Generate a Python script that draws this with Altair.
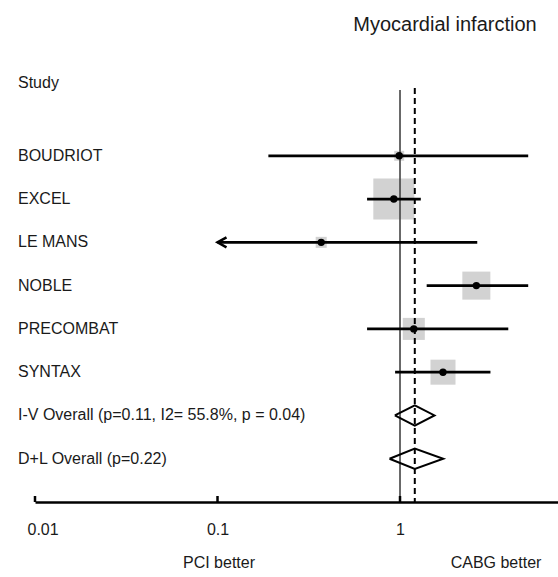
import altair as alt
import pandas as pd

# Individual trials: odds ratio, 95% CI and relative weight (%)
studies = ["BOUDRIOT", "EXCEL", "LE MANS", "NOBLE", "PRECOMBAT", "SYNTAX"]
estimate = [0.99, 0.925, 0.37, 2.62, 1.19, 1.72]
ci_low = [0.19, 0.66, 0.10, 1.40, 0.66, 0.94]
ci_high = [5.04, 1.30, 2.65, 5.04, 3.92, 3.13]
weight = [2.6, 44.3, 3.2, 20.7, 12.8, 16.5]

# Pooled estimates (inverse-variance and DerSimonian-Laird)
pooled_labels = ["I-V Overall (p=0.11, I2= 55.8%, p = 0.04)", "D+L Overall (p=0.22)"]
pooled_est = [1.205, 1.205]
pooled_low = [0.937, 0.876]
pooled_high = [1.545, 1.725]

tick_values = [0.01, 0.1, 1]
ci_floor = 0.1  # intervals reaching this bound are drawn with an arrow

FONT = "Liberation Sans"
INK = "#1a1a1a"
W, H = 523, 502
ROW_DOMAIN = [-2.6, 9.0]
DIAMOND_HALF = 0.235

study_df = pd.DataFrame({
    "label": studies,
    "row": list(range(1, len(studies) + 1)),
    "est": estimate,
    "lo": [max(v, ci_floor) for v in ci_low],
    "hi": ci_high,
    "w": weight,
    "arrow": [v <= ci_floor for v in ci_low],
})
pooled_rows = [len(studies) + 1 + i for i in range(len(pooled_labels))]
pooled_df = pd.DataFrame({"label": pooled_labels, "row": pooled_rows,
                          "est": pooled_est, "lo": pooled_low, "hi": pooled_high})

diamond_pts = []
for _, r in pooled_df.iterrows():
    pts = [(r.lo, r.row), (r.est, r.row - DIAMOND_HALF), (r.hi, r.row),
           (r.est, r.row + DIAMOND_HALF), (r.lo, r.row)]
    for i, (xv, yv) in enumerate(pts):
        diamond_pts.append({"label": r.label, "o": i, "x": xv, "row": yv})
diamond_df = pd.DataFrame(diamond_pts)

labels_df = pd.concat([study_df[["label", "row"]], pooled_df[["label", "row"]]])

xscale = alt.Scale(type="log", domain=[0.01, 7.34], nice=False)
ysc = alt.Scale(domain=[ROW_DOMAIN[1], ROW_DOMAIN[0]], nice=False, zero=False)

X = lambda f: alt.X(f, type="quantitative", scale=xscale,
                    axis=alt.Axis(values=tick_values, format="~g", title=None, grid=False,
                                  ticks=False, domain=True, domainColor="black",
                                  domainWidth=2.5, labelFontSize=16, labelFont=FONT,
                                  labelColor=INK, labelPadding=19, labelFlush=True,
                                  labelFlushOffset=8))
Y = alt.Y("row:Q", scale=ysc, axis=None)

base_study = alt.Chart(study_df)

boxes = base_study.mark_point(shape="square", filled=True, color="#d2d2d2", opacity=1).encode(
    x=X("est"), y=Y,
    size=alt.Size("w:Q", scale=alt.Scale(domain=[0, 44.3], range=[0, 1681]), legend=None),
)
ci = base_study.mark_rule(color="black", strokeWidth=2.7).encode(
    x=X("lo"), x2="hi", y=Y)
dots = base_study.mark_point(shape="circle", filled=True, color="black", size=55, opacity=1).encode(
    x=X("est"), y=Y)
arrows = base_study.transform_filter("datum.arrow").mark_point(
    shape="M1.8,-1L0,0L1.8,1", filled=False, color="black", strokeWidth=2.5,
    size=100, opacity=1, strokeJoin="miter").encode(x=X("lo"), y=Y)

diamonds = alt.Chart(diamond_df).mark_line(color="black", strokeWidth=2, strokeJoin="miter").encode(
    x=X("x"), y=alt.Y("row:Q", scale=ysc, axis=None), detail="label:N", order="o:Q")

null_line = alt.Chart(pd.DataFrame({"v": [1]})).mark_rule(color="#444", strokeWidth=1.6).encode(
    x=X("v"), y=alt.value(90), y2=alt.value(H))
pooled_line = alt.Chart(pooled_df.head(1)).mark_rule(
    color="black", strokeWidth=2, strokeDash=[6, 4]).encode(
    x=X("est"), y=alt.value(88), y2=alt.value(H))

axis_ticks = alt.Chart(pd.DataFrame({"t": tick_values})).mark_rule(
    color="black", strokeWidth=2.5).encode(x=X("t"), y=alt.value(H - 6), y2=alt.value(H))

row_labels = alt.Chart(labels_df).mark_text(
    align="left", baseline="middle", font=FONT, fontSize=16, color=INK).encode(
    x=alt.value(-17), y=alt.Y("row:Q", scale=ysc, axis=None), text="label:N")

header = alt.Chart(pd.DataFrame({"t": ["Study"]})).mark_text(
    align="left", baseline="middle", font=FONT, fontSize=16, color=INK).encode(
    x=alt.value(-17), y=alt.value(83), text="t:N")
title = alt.Chart(pd.DataFrame({"t": ["Myocardial infarction"]})).mark_text(
    align="center", baseline="middle", font=FONT, fontSize=20, color=INK).encode(
    x=alt.value(410), y=alt.value(25), text="t:N")
favours = alt.Chart(pd.DataFrame({"t": ["PCI better", "CABG better"],
                                  "px": [184, 461]})).mark_text(
    align="center", baseline="middle", font=FONT, fontSize=16, color=INK).encode(
    x=alt.X("px:Q", scale=None), y=alt.value(563), text="t:N")

chart = alt.layer(
    boxes, null_line, pooled_line, ci, dots, arrows, diamonds, axis_ticks,
    row_labels, header, title, favours,
).properties(
    width=W, height=H,
    autosize=alt.AutoSizeParams(type="none"),
    padding={"left": 35, "top": 0, "right": 0, "bottom": 75},
    background="white",
).configure_view(stroke=None)

chart.save("out.html", embed_options={"renderer": "svg", "actions": False})
